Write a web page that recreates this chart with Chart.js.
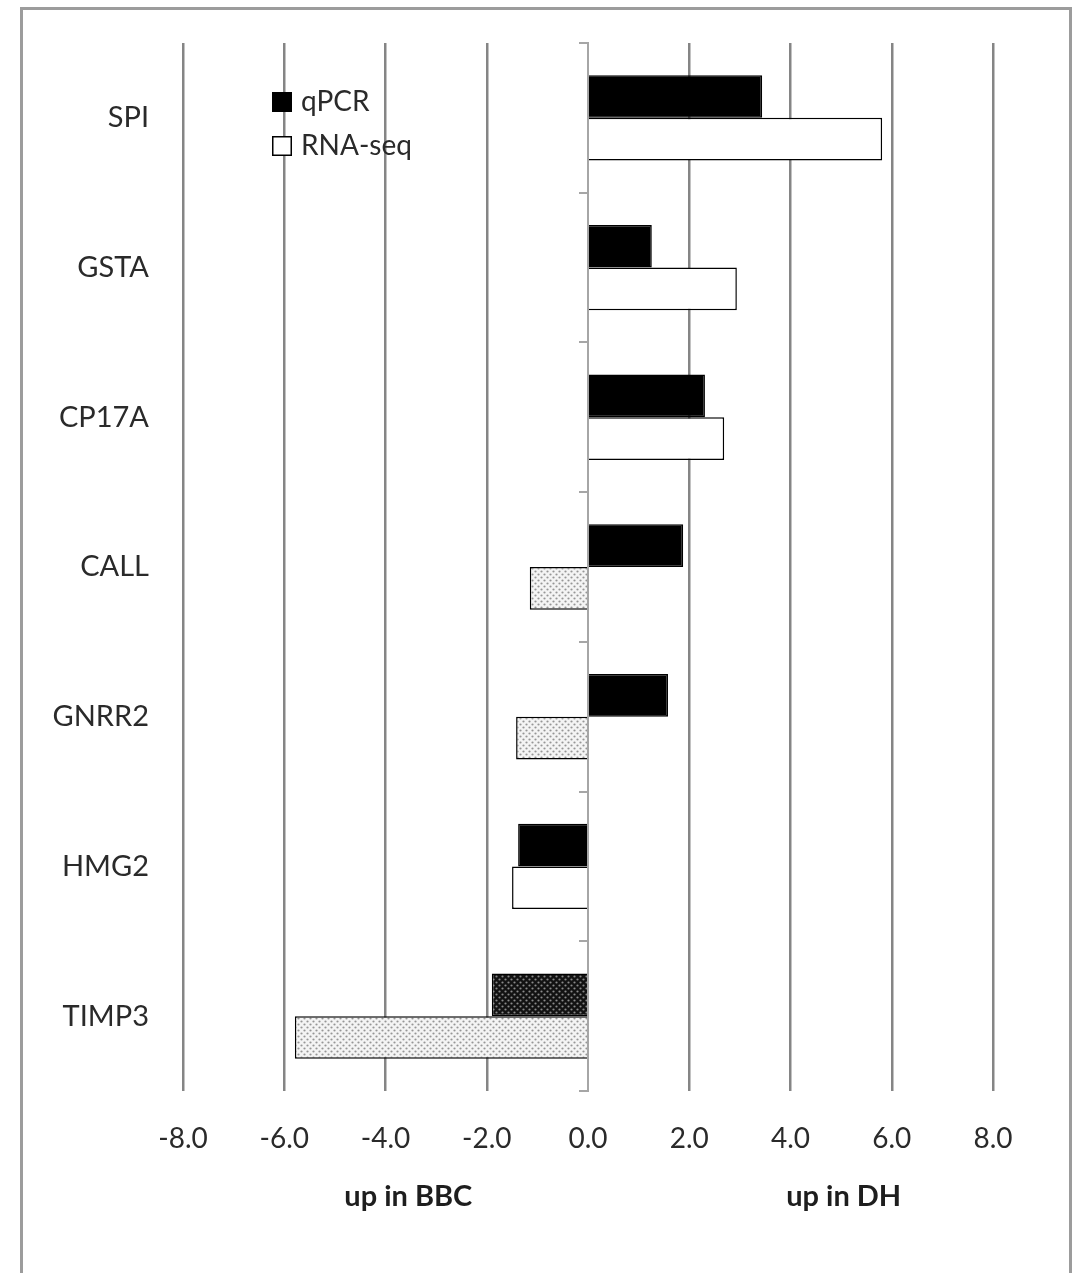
<!DOCTYPE html>
<html>
<head>
<meta charset="utf-8">
<style>
  html, body { margin: 0; padding: 0; background: #fff; }
  #wrap { width: 1072px; height: 1273px; position: relative; }
</style>
<script src="https://cdn.jsdelivr.net/npm/chart.js@4.4.1/dist/chart.umd.min.js"></script>
</head>
<body>
<div id="wrap"><canvas id="c" width="1072" height="1273"></canvas></div>
<script>
// Fold change per gene, qPCR vs RNA-seq
const genes = ['SPI', 'GSTA', 'CP17A', 'CALL', 'GNRR2', 'HMG2', 'TIMP3'];
const qpcr = [3.44, 1.26, 2.31, 1.88, 1.58, -1.38, -1.90];
const rnaseq = [5.81, 2.94, 2.69, -1.15, -1.42, -1.50, -5.79];
const seriesNames = ['qPCR', 'RNA-seq'];
const sideLabels = ['up in BBC', 'up in DH'];

// Bars filled with a dot screen instead of a solid colour
const qpcrScreened = [false, false, false, false, false, false, true];
const rnaseqScreened = [false, false, false, true, true, false, true];

function dotPattern(bg, dot) {
  const p = document.createElement('canvas');
  p.width = 6; p.height = 6;
  const g = p.getContext('2d');
  g.fillStyle = bg; g.fillRect(0, 0, 6, 6);
  g.fillStyle = dot;
  g.beginPath(); g.arc(1.5, 1.5, 1.1, 0, Math.PI * 2); g.fill();
  g.beginPath(); g.arc(4.5, 4.5, 1.1, 0, Math.PI * 2); g.fill();
  return document.getElementById('c').getContext('2d').createPattern(p, 'repeat');
}
const lightDots = dotPattern('#f4f4f4', '#969696');
const darkDots = dotPattern('#121212', '#8a8a8a');

const FONT = 'Lato, "Open Sans", sans-serif';
const TEXT = '#2a2a2a';

const framePlugin = {
  id: 'frame',
  beforeDraw(chart) {
    const c = chart.ctx;
    c.save();
    c.fillStyle = '#ffffff';
    c.fillRect(0, 0, chart.width, chart.height);
    c.strokeStyle = '#9c9c9c';
    c.lineWidth = 3;
    c.strokeRect(21.5, 8.5, 1049, 1320);
    c.restore();
  }
};

const legendPlugin = {
  id: 'boxLegend',
  afterDraw(chart) {
    const c = chart.ctx;
    const x = 272, y0 = 92, step = 44, size = 20;
    c.save();
    chart.data.datasets.forEach((ds, i) => {
      const y = y0 + i * step;
      c.fillStyle = ds.legendFill;
      c.fillRect(x, y, size, size);
      c.strokeStyle = '#000';
      c.lineWidth = 1.5;
      c.strokeRect(x + 0.75, y + 0.75, size - 1.5, size - 1.5);
      c.fillStyle = TEXT;
      c.font = '28px ' + FONT;
      c.textBaseline = 'middle';
      c.textAlign = 'left';
      c.fillText(ds.label, x + size + 9, y + size / 2);
    });
    c.restore();
  }
};

const sidePlugin = {
  id: 'sideLabels',
  afterDraw(chart) {
    const c = chart.ctx;
    const xs = chart.scales.x;
    c.save();
    c.fillStyle = '#1e1e1e';
    c.font = 'bold 29px ' + FONT;
    c.textAlign = 'center';
    c.textBaseline = 'middle';
    c.fillText(sideLabels[0], xs.getPixelForValue(-3.55), 1197);
    c.fillText(sideLabels[1], xs.getPixelForValue(5.05), 1197);
    c.restore();
  }
};

new Chart(document.getElementById('c'), {
  type: 'bar',
  data: {
    labels: genes,
    datasets: [
      {
        label: seriesNames[0],
        data: qpcr,
        backgroundColor: qpcr.map((v, i) => qpcrScreened[i] ? darkDots : '#000000'),
        legendFill: '#000000',
        borderColor: '#000000',
        borderWidth: 1.5
      },
      {
        label: seriesNames[1],
        data: rnaseq,
        backgroundColor: rnaseq.map((v, i) => rnaseqScreened[i] ? lightDots : '#ffffff'),
        legendFill: '#ffffff',
        borderColor: '#000000',
        borderWidth: 1.5
      }
    ]
  },
  options: {
    indexAxis: 'y',
    responsive: false,
    animation: false,
    devicePixelRatio: 1,
    layout: { padding: { top: 43, right: 79, left: 0, bottom: 0 } },
    datasets: { bar: { categoryPercentage: 0.57, barPercentage: 1.0 } },
    plugins: { legend: { display: false }, tooltip: { enabled: false } },
    scales: {
      x: {
        min: -8, max: 8,
        ticks: {
          stepSize: 2,
          padding: 31,
          color: TEXT,
          font: { family: FONT, size: 28 },
          callback: v => v.toFixed(1)
        },
        grid: {
          drawTicks: false,
          color: ctx => ctx.tick && ctx.tick.value === 0 ? '#a6a6a6' : '#858585',
          lineWidth: ctx => ctx.tick && ctx.tick.value === 0 ? 2 : 2.5
        },
        border: { display: false },
        afterFit: s => { s.height = 182; }
      },
      y: {
        position: 'left',
        ticks: {
          padding: 34,
          color: TEXT,
          font: { family: FONT, size: 29 }
        },
        grid: { display: false, drawTicks: false },
        border: { display: false },
        afterFit: s => { s.width = 183; s.paddingTop = 0; s.paddingBottom = 0; }
      },
      yZero: {
        type: 'category',
        axis: 'y',
        position: { x: 0 },
        offset: true,
        ticks: { display: false },
        grid: {
          offset: true,
          drawOnChartArea: false,
          drawTicks: true,
          tickLength: 8,
          color: '#a6a6a6',
          lineWidth: 2
        },
        border: { display: true, color: '#a6a6a6', width: 2 }
      }
    }
  },
  plugins: [framePlugin, legendPlugin, sidePlugin]
});
</script>
</body>
</html>
